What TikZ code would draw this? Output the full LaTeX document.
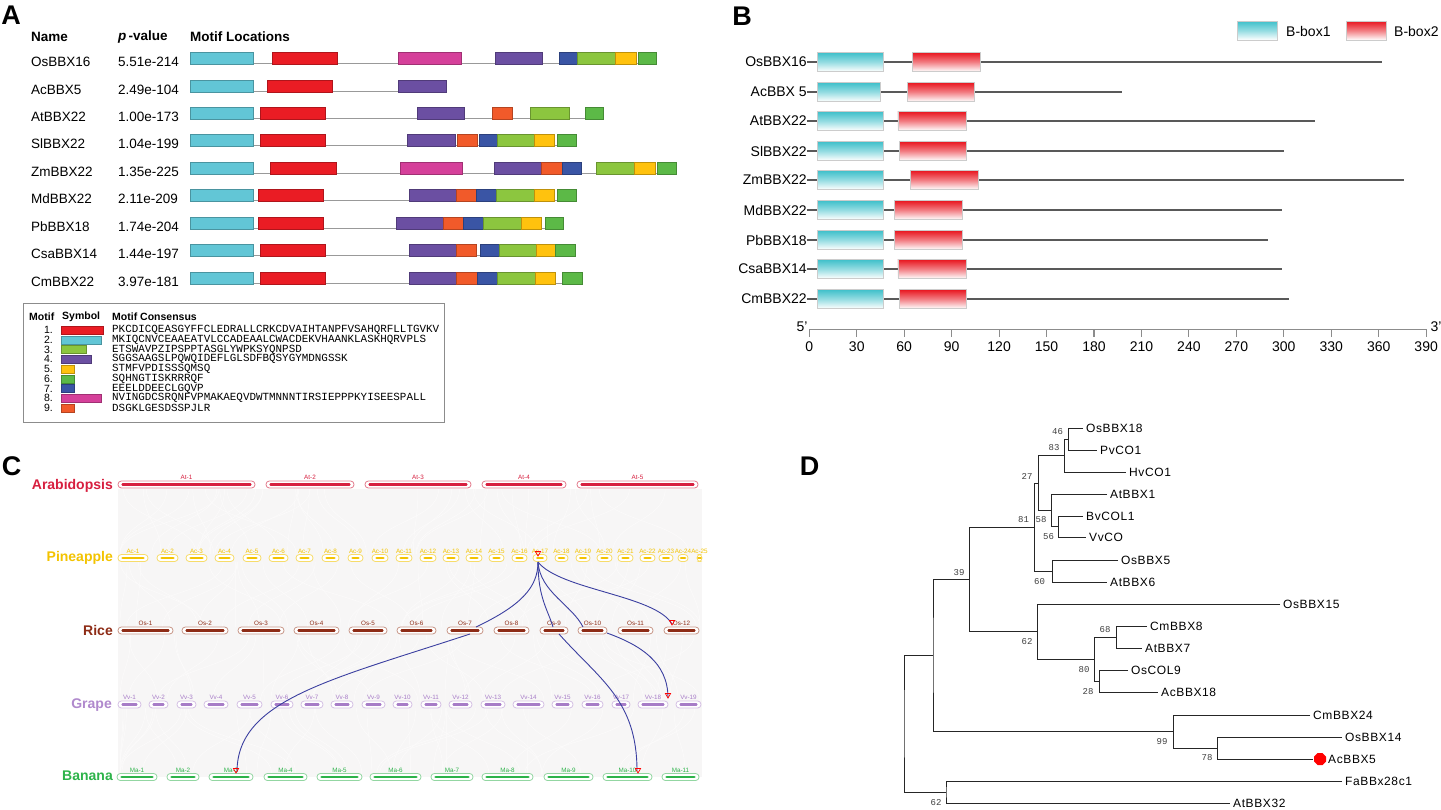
\documentclass[tikz,border=0pt]{standalone}
\usepackage{fontspec}
\setmainfont{Liberation Sans}
\newfontfamily\monof{Liberation Mono}
\newfontfamily\treef[LetterSpace=5]{Liberation Sans}
\usetikzlibrary{shapes.geometric}
\definecolor{mcyan}{HTML}{62C6D6}
\definecolor{mred}{HTML}{EA1C24}
\definecolor{mmag}{HTML}{D5409A}
\definecolor{mpur}{HTML}{6B4FA2}
\definecolor{mblue}{HTML}{3A55A5}
\definecolor{mlg}{HTML}{8CC63F}
\definecolor{myel}{HTML}{FFC20E}
\definecolor{mgrn}{HTML}{5CB947}
\definecolor{morg}{HTML}{F15A2A}
\definecolor{bcyan}{HTML}{3EC0CA}
\definecolor{bred}{HTML}{E8151F}
\definecolor{AtI}{HTML}{D71F3F}
\definecolor{AtO}{HTML}{E37D8E}
\definecolor{AcI}{HTML}{F3C300}
\definecolor{AcO}{HTML}{F7DC6A}
\definecolor{OsI}{HTML}{8E2C16}
\definecolor{OsO}{HTML}{C9988A}
\definecolor{VvI}{HTML}{A77CC7}
\definecolor{VvO}{HTML}{D5C1E4}
\definecolor{MaI}{HTML}{2DB34A}
\definecolor{MaO}{HTML}{93D6A2}
\definecolor{lnk}{HTML}{3B3FA0}
\definecolor{synbg}{HTML}{F7F6F6}
\definecolor{synwl}{HTML}{FCFBFB}
\newcommand\motrow[2]{\foreach \a/\b/\c in {#2}{\filldraw[fill=\c, draw=\c!75!black, line width=0.5pt] (\a,#1-10) rectangle (\b,#1+2);}}
\newcommand\chromrow[6]{%
 \foreach \n/\a/\b in {#6}{%
  \pgfmathsetmacro\w{\b-\a}\pgfmathsetmacro\c{(\a+\b)/2}\pgfmathsetmacro\ins{min(5,\w/3)}%
  \node[chr, draw=#5, fill=white, minimum width=\w pt] (#1\n) at (\c,#3) {};%
  \draw[line width=2.5pt, #4, line cap=round] ([xshift=\ins pt]#1\n.west) -- ([xshift=-\ins pt]#1\n.east);%
  \node[chrlab, text=#4] (#1\n-l) at ([yshift=0.3pt]#1\n.north) {#2-\n};%
 }}
\begin{document}
\begin{tikzpicture}[x=1pt,y=-1pt,
  plab/.style={font=\fontsize{27}{30}\selectfont\bfseries, inner sep=0pt},
  atxt/.style={font=\fontsize{13.5}{15}\selectfont, anchor=west, inner sep=0pt},
  ahdr/.style={font=\fontsize{13.5}{15}\selectfont\bfseries, anchor=west, inner sep=0pt},
  lgh/.style={font=\fontsize{10.5}{12}\selectfont\bfseries, anchor=west, inner sep=0pt},
  btxt/.style={font=\fontsize{14}{16}\selectfont, inner sep=0pt},
  bline/.style={draw=black!65, line width=1.2pt},
  baxis/.style={draw=black!45, line width=1.1pt},
  chr/.style={rectangle, rounded corners=3.3pt, minimum height=7pt, inner sep=0pt, line width=0.8pt},
  chrlab/.style={font=\fontsize{6.3}{7}\selectfont, inner sep=0.5pt, anchor=south},
  spec/.style={font=\fontsize{14}{16}\selectfont\bfseries, anchor=east, inner sep=0pt},
  link/.style={draw=lnk, line width=0.9pt},
  redtri/.style={regular polygon, regular polygon sides=3, shape border rotate=180, draw=red, line width=0.7pt, minimum size=6pt, inner sep=0pt},
  tree/.style={draw=black!85, line width=0.8pt},
  leaf/.style={font=\fontsize{12}{14}\selectfont\treef, anchor=west, inner sep=0pt},
  boot/.style={font=\fontsize{9}{10}\selectfont\monof, text=black!75, inner sep=0pt},
  synl/.style={draw=synwl, line width=0.5pt}
]
\useasboundingbox[fill=white] (0,0) rectangle (1441,809);

% ================= Panel A =================
\node[plab] (labA) at (11,15) {A};
\node[ahdr] (hName) at (31,37) {Name};
\node[ahdr] (hPval) at (118,37) {\textit{p}\,-value};
\node[ahdr] (hMot) at (190,37) {Motif Locations};
\foreach \k/\nm/\pv/\yy/\ee in {1/OsBBX16/5.51e-214/62/656, 2/AcBBX5/2.49e-104/90/446, 3/AtBBX22/1.00e-173/117/603, 4/SlBBX22/1.04e-199/144/576, 5/ZmBBX22/1.35e-225/172/676, 6/MdBBX22/2.11e-209/199/576, 7/PbBBX18/1.74e-204/227/563, 8/CsaBBX14/1.44e-197/254/575, 9/CmBBX22/3.97e-181/282/582}{
  \node[atxt] (an\k) at (31,\yy) {\nm};
  \node[atxt] (ap\k) at (118,\yy) {\pv};
  \draw[black!40, line width=1pt] (190,\yy+1.5) -- (\ee,\yy+1.5);
}
\motrow{62}{190/253/mcyan, 272/337/mred, 398/461/mmag, 495/542/mpur, 559/577/mblue, 577/615/mlg, 615/636/myel, 638/656/mgrn}
\motrow{90}{190/253/mcyan, 267/332/mred, 398/446/mpur}
\motrow{117}{190/253/mcyan, 260/325/mred, 417/464/mpur, 492/512/morg, 530/569/mlg, 585/603/mgrn}
\motrow{144}{190/253/mcyan, 260/325/mred, 407/455/mpur, 457/477/morg, 479/497/mblue, 497/534/mlg, 534/554/myel, 557/576/mgrn}
\motrow{172}{190/253/mcyan, 270/336/mred, 400/462/mmag, 494/541/mpur, 541/562/morg, 562/581/mblue, 596/634/mlg, 634/655/myel, 657/676/mgrn}
\motrow{199}{190/253/mcyan, 258/323/mred, 409/456/mpur, 456/476/morg, 476/496/mblue, 496/534/mlg, 534/554/myel, 557/576/mgrn}
\motrow{227}{190/253/mcyan, 258/323/mred, 396/443/mpur, 443/463/morg, 463/483/mblue, 483/521/mlg, 521/541/myel, 545/563/mgrn}
\motrow{254}{190/253/mcyan, 260/325/mred, 409/456/mpur, 456/476/morg, 480/499/mblue, 499/536/mlg, 536/555/myel, 555/575/mgrn}
\motrow{282}{190/253/mcyan, 260/325/mred, 409/456/mpur, 456/477/morg, 477/497/mblue, 497/535/mlg, 535/555/myel, 562/582/mgrn}

% legend
\draw[black!45, line width=0.8pt] (23,303) rectangle (444,422);
\node[lgh] (lgM) at (29,317) {Motif};
\node[lgh] (lgS) at (62,317) {Symbol};
\node[lgh] (lgC) at (112,317) {Motif Consensus};
\foreach \i/\xe/\c/\s in {1/103/mred/PKCDICQEASGYFFCLEDRALLCRKCDVAIHTANPFVSAHQRFLLTGVKV, 2/101/mcyan/MKIQCNVCEAAEATVLCCADEAALCWACDEKVHAANKLASKHQRVPLS, 3/86/mlg/ETSWAVPZIPSPPTASGLYWPKSYQNPSD, 4/91/mpur/SGGSAAGSLPQWQIDEFLGLSDFBQSYGYMDNGSSK, 5/74/myel/STMFVPDISSSQMSQ, 6/74/mgrn/SQHNGTISKRRRQF, 7/74/mblue/EEELDDEECLGQVP, 8/101/mmag/NVINGDCSRQNFVPMAKAEQVDWTMNNNTIRSIEPPPKYISEESPALL, 9/74/morg/DSGKLGESDSSPJLR}{
  \pgfmathsetmacro\yy{330+(\i-1)*9.75}
  \node[font=\fontsize{10.5}{11}\selectfont, anchor=east, inner sep=0pt] (lgn\i) at (53,\yy) {\i.};
  \filldraw[fill=\c, draw=\c!75!black, line width=0.4pt] (61,\yy-4) rectangle (\xe,\yy+4);
  \node[font=\fontsize{10.9}{11}\selectfont\monof, anchor=west, inner sep=0pt] (lgs\i) at (112,\yy) {\s};
}

% ================= Panel B =================
\node[plab] (labB) at (742,16) {B};
\shade[top color=bcyan, bottom color=white, middle color=bcyan!55] (1237,21) rectangle (1277,40);
\draw[black!20] (1237,21) rectangle (1277,40);
\node[btxt, anchor=west] (bl1) at (1286,31) {B-box1};
\shade[top color=bred, bottom color=white, middle color=bred!55] (1346,21) rectangle (1386,40);
\draw[black!20] (1346,21) rectangle (1386,40);
\node[btxt, anchor=west] (bl2) at (1394,31) {B-box2};
\begin{scope}[shift={(809.3,0)}, x=1.5817pt]
\foreach \k/\nm/\ra/\rb/\ce/\le in {1/OsBBX16/65/108/47/362, 2/AcBBX 5/62/104/45/197.5, 3/AtBBX22/56/99/47/320, 4/SlBBX22/57/99/47/300, 5/ZmBBX22/64/107/47/376, 6/MdBBX22/54/97/47/299, 7/PbBBX18/54/97/47/290, 8/CsaBBX14/56/99/47/299, 9/CmBBX22/57/99/47/303}{
  \pgfmathsetmacro\yy{round(62+(\k-1)*29.6)}
  \draw[bline] (-1.5,\yy) -- (\le,\yy);
  \shade[top color=bcyan, bottom color=white, middle color=bcyan!55] (5,\yy-9.5) rectangle (\ce,\yy+9.5);
  \draw[black!20, line width=0.6pt] (5,\yy-9.5) rectangle (\ce,\yy+9.5);
  \shade[top color=bred, bottom color=white, middle color=bred!55] (\ra,\yy-9.5) rectangle (\rb,\yy+9.5);
  \draw[black!20, line width=0.6pt] (\ra,\yy-9.5) rectangle (\rb,\yy+9.5);
  \node[btxt, anchor=east] (bn\k) at (-1.5,\yy) {\nm};
}
\draw[baxis] (0,329.3) -- (390,329.3);
\foreach \t in {0,30,...,390}{
  \draw[baxis] (\t,329.3) -- (\t,336.5);
  \node[btxt] (bt\t) at (\t,347) {\t};
}
\end{scope}
\node[btxt] (b5p) at (802,327) {5'};
\node[btxt] (b3p) at (1436,327) {3'};

% ================= Panel C =================
\node[plab] (labC) at (11.5,466) {C};
\fill[synbg] (118,489) rectangle (702,777);
\pgfmathsetseed{11}
\foreach \ya/\yb in {489/554, 562/627, 635/701, 708/774}{
 \foreach \i in {1,...,45}{
  \pgfmathsetmacro\xa{120+580*rnd}
  \pgfmathsetmacro\xb{\xa+(rnd-0.5)*220}
  \pgfmathsetmacro\xb{max(120,min(700,\xb))}
  \pgfmathsetmacro\ym{(\ya+\yb)/2}
  \draw[synl] (\xa,\ya) .. controls (\xa,\ym) and (\xb,\ym) .. (\xb,\yb);
 }}
\node[spec, text=AtI] (spAt) at (113,486) {Arabidopsis};
\node[spec, text=AcI] (spAc) at (113,558) {Pineapple};
\node[spec, text=OsI] (spOs) at (113,630) {Rice};
\node[spec, text=VvI!90] (spVv) at (112,705) {Grape};
\node[spec, text=MaI] (spMa) at (113,776) {Banana};
\chromrow{At}{At}{484.5}{AtI}{AtO}{1/118/255, 2/266/354, 3/365/471, 4/482/566, 5/577/698}
\chromrow{Ac}{Ac}{558}{AcI}{AcO}{1/118/148, 2/157/178, 3/186/207, 4/215/234, 5/243/261, 6/269/288, 7/296/313, 8/322/339, 9/348/363, 10/372/388, 11/396/412, 12/420/436, 13/443/459, 14/466/482, 15/489/504, 16/512/527, 17/533/547, 18/555/568, 19/576/590, 20/597/612, 21/618/633, 22/640/655, 23/659/673, 24/678/688, 25/697/702}
\chromrow{Os}{Os}{630.5}{OsI}{OsO}{1/118/173, 2/182/228, 3/238/284, 4/294/339, 5/349/387, 6/397/436, 7/447/483, 8/494/529, 9/540/568, 10/578/607, 11/618/653, 12/664/699}
\chromrow{Vv}{Vv}{704.5}{VvI}{VvO}{1/118/141, 2/149/168, 3/177/196, 4/204/228, 5/237/262, 6/271/293, 7/301/323, 8/331/353, 9/362/385, 10/393/412, 11/421/441, 12/449/472, 13/481/505, 14/513/544, 15/552/573, 16/582/603, 17/612/630, 18/638/668, 19/676/701}
\chromrow{Ma}{Ma}{777}{MaI}{MaO}{1/117/157, 2/167/199, 3/209/253, 4/264/307, 5/317/362, 6/370/421, 7/431/473, 8/482/533, 9/544/593, 10/603/652, 11/662/699}

\coordinate (k0) at (538,562);
\coordinate (kOs7a) at (476,627);
\coordinate (kOs7b) at (470,634);
\coordinate (kMa3) at (237,772);
\coordinate (kOs9a) at (553,627);
\coordinate (kOs9b) at (559,634);
\coordinate (kMa10) at (637,771);
\coordinate (kOs10a) at (583,627);
\coordinate (kOs10b) at (607,633);
\coordinate (kVv18) at (668,698);
\coordinate (kOs12) at (672,624);
\draw[link] (k0) .. controls (538,588) and (520,606) .. (kOs7a);
\draw[link] (kOs7b) .. controls (330,680) and (237,700) .. (kMa3);
\draw[link] (k0) .. controls (538,598) and (548,610) .. (kOs9a);
\draw[link] (kOs9b) .. controls (600,680) and (637,700) .. (kMa10);
\draw[link] (k0) .. controls (540,592) and (572,605) .. (kOs10a);
\draw[link] (kOs10b) .. controls (640,645) and (668,662) .. (kVv18);
\draw[link] (k0) .. controls (560,590) and (655,595) .. (kOs12);
\node[redtri] (rt1) at (538,553) {};
\node[redtri] (rt2) at (672,622) {};
\node[redtri] (rt3) at (668,695) {};
\node[redtri] (rt4) at (638,770) {};
\node[redtri] (rt5) at (236,770) {};

% ================= Panel D =================
\node[plab] (labD) at (809.5,466) {D};
\coordinate (L1) at (1083,428);
\coordinate (L2) at (1097,450);
\coordinate (L3) at (1126,472);
\coordinate (L4) at (1107,494);
\coordinate (L5) at (1083,516);
\coordinate (L6) at (1086,537);
\coordinate (L7) at (1118,560);
\coordinate (L8) at (1107,582);
\coordinate (L9) at (1280,604);
\coordinate (L10) at (1147,626);
\coordinate (L11) at (1142,648);
\coordinate (L12) at (1128,670);
\coordinate (L13) at (1158,692);
\coordinate (L14) at (1310,715);
\coordinate (L15) at (1342,737);
\coordinate (L16) at (1313,759);
\coordinate (L17) at (1342,781);
\coordinate (L18) at (1230,803);
\coordinate (n46) at (1068,439);
\coordinate (n83) at (1064,455.5);
\coordinate (n56) at (1058,526.5);
\coordinate (n58) at (1051,510);
\coordinate (n27) at (1038,483);
\coordinate (n60) at (1052,571);
\coordinate (n81) at (1034,527);
\coordinate (n68) at (1116,637);
\coordinate (n28) at (1099,681);
\coordinate (n80) at (1094,659);
\coordinate (n62) at (1037,631.5);
\coordinate (n39) at (969,579);
\coordinate (n78) at (1217,748);
\coordinate (n99) at (1173,731.5);
\coordinate (nA) at (933,655);
\coordinate (n62b) at (946,792);
\coordinate (nR) at (904,723.5);
\draw[tree] (L1) -| (n46) |- (L2);
\draw[tree] (n46) -| (n83) |- (L3);
\draw[tree] (L5) -| (n56) |- (L6);
\draw[tree] (L4) -| (n58) |- (n56);
\draw[tree] (n83) -| (n27) |- (n58);
\draw[tree] (L7) -| (n60) |- (L8);
\draw[tree] (n27) -| (n81) |- (n60);
\draw[tree] (L10) -| (n68) |- (L11);
\draw[tree] (L12) -| (n28) |- (L13);
\draw[tree] (n68) -| (n80) |- (n28);
\draw[tree] (L9) -| (n62) |- (n80);
\draw[tree] (n81) -| (n39) |- (n62);
\draw[tree] (L15) -| (n78) |- (L16);
\draw[tree] (L14) -| (n99) |- (n78);
\draw[tree] (n39) -| (nA) |- (n99);
\draw[tree] (L17) -| (n62b) |- (L18);
\draw[tree] (nA) -| (nR) |- (n62b);
\foreach \i/\t in {1/OsBBX18, 2/PvCO1, 3/HvCO1, 4/AtBBX1, 5/BvCOL1, 6/VvCO, 7/OsBBX5, 8/AtBBX6, 9/OsBBX15, 10/CmBBX8, 11/AtBBX7, 12/OsCOL9, 13/AcBBX18, 14/CmBBX24, 15/OsBBX14, 17/FaBBx28c1, 18/AtBBX32}{
  \node[leaf] (T\i) at ([xshift=3pt]L\i) {\t};
}
\node[regular polygon, regular polygon sides=8, fill=red, minimum size=13pt, inner sep=0pt] (dotAc) at (1320,759) {};
\node[leaf] (T16) at (1328,759) {AcBBX5};
\foreach \i/\x/\y/\t in {1/1057.5/432/46, 2/1054/448/83, 3/1027/476/27, 4/1023.5/520/81, 5/1041/520/58, 6/1048.5/537/56, 7/1039.5/582/60, 8/959/573/39, 9/1027/642/62, 10/1105/630/68, 11/1084/670/80, 12/1088/692/28, 13/1162/742/99, 14/1207/758/78, 15/936/803/62}{
  \node[boot] (bs\i) at (\x,\y) {\t};
}
\end{tikzpicture}
\end{document}
